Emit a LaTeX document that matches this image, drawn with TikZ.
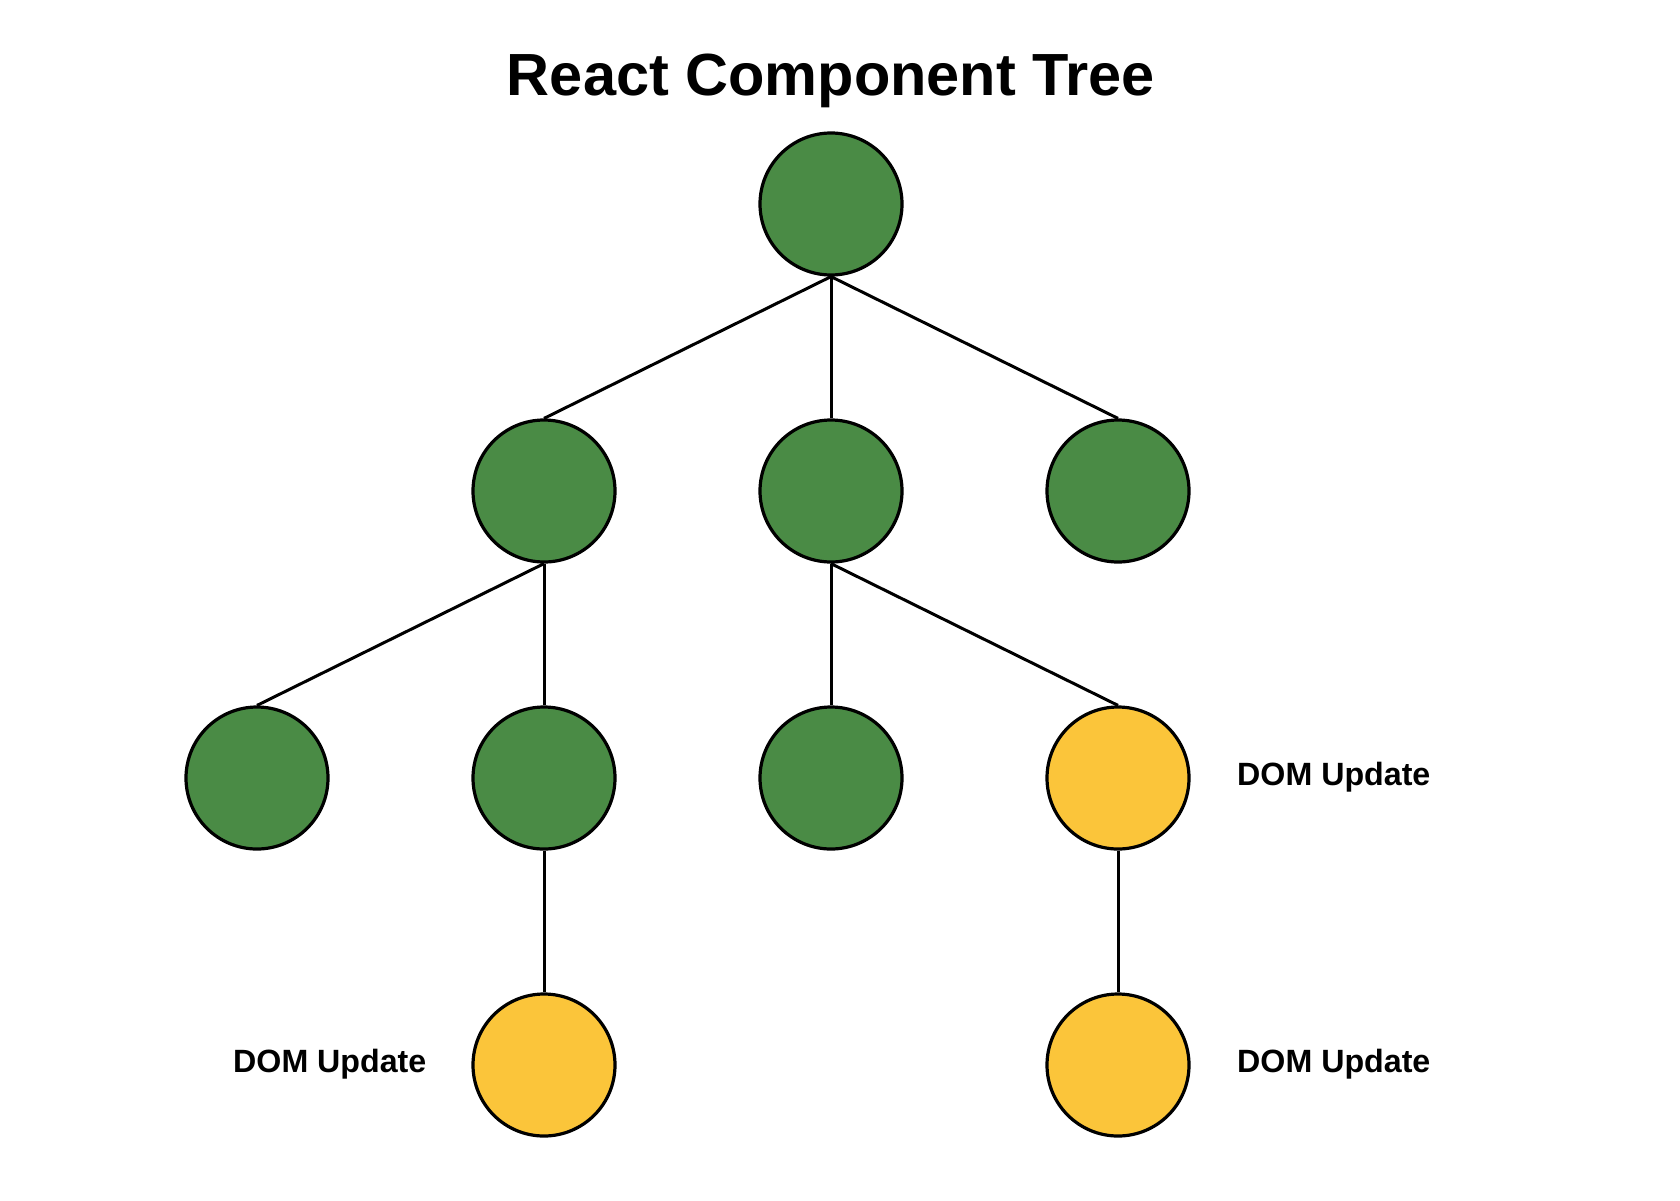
\documentclass[tikz,border=0pt]{standalone}
\usepackage{fontspec}
\setmainfont{Liberation Sans}
\definecolor{tgreen}{RGB}{74,139,69}
\definecolor{tyellow}{RGB}{251,197,58}
\begin{document}
\begin{tikzpicture}[x=1pt,y=-1pt,
  comp/.style={circle,draw=black,line width=3.2pt,minimum size=142pt,inner sep=0pt,fill=tgreen},
  upd/.style={comp,fill=tyellow},
  link/.style={line width=3pt},
  lbl/.style={font=\bfseries\fontsize{32.2}{38}\selectfont,anchor=base west,inner sep=0pt}]
\useasboundingbox[fill=white] (0,0) rectangle (1680,1200);
\node[font=\bfseries\fontsize{59.5}{70}\selectfont,anchor=base,inner sep=0pt] (title) at (831,95) {React Component Tree};
\node[comp] (r) at (831,204) {};
\node[comp] (a) at (544,491) {};
\node[comp] (b) at (831,491) {};
\node[comp] (c) at (1118,491) {};
\node[comp] (a1) at (257,778) {};
\node[comp] (a2) at (544,778) {};
\node[comp] (b1) at (831,778) {};
\node[upd] (b2) at (1118,778) {};
\node[upd] (a21) at (544,1065) {};
\node[upd] (b21) at (1118,1065) {};
\draw[link] (r.south) -- (a.north);
\draw[link] (r.south) -- (b.north);
\draw[link] (r.south) -- (c.north);
\draw[link] (a.south) -- (a1.north);
\draw[link] (a.south) -- (a2.north);
\draw[link] (b.south) -- (b1.north);
\draw[link] (b.south) -- (b2.north);
\draw[link] (a2.south) -- (a21.north);
\draw[link] (b2.south) -- (b21.north);
\node[lbl] (l1) at (1237,785) {DOM Update};
\node[lbl] (l2) at (1237,1072) {DOM Update};
\node[lbl] (l3) at (233,1072) {DOM Update};
\end{tikzpicture}
\end{document}
